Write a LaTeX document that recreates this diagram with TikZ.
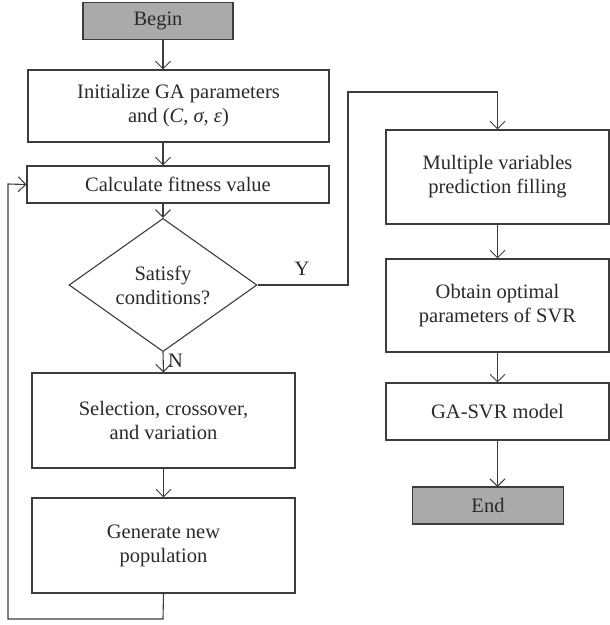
\documentclass[tikz,border=0pt]{standalone}
\usepackage{fontspec}
\setmainfont{Liberation Serif}
\usetikzlibrary{arrows.meta,shapes.geometric}
\definecolor{linec}{HTML}{3C3C3C}
\definecolor{termfill}{HTML}{A9ABAA}
\definecolor{txt}{HTML}{2A2A2A}
\begin{document}
\begin{tikzpicture}[x=1pt,y=-1pt,
  font=\fontsize{20.5}{24}\selectfont,
  every node/.style={text=txt},
  box/.style={draw=linec, line width=1.1pt, rectangle, align=center, inner sep=0pt},
  term/.style={box, fill=termfill},
  decision/.style={draw=linec, line width=1.1pt, diamond, align=center, inner sep=0pt},
  conn/.style={draw=linec, line width=1.1pt, -{Straight Barb[length=7.5pt,width=15pt,line width=1pt]}},
  plain/.style={draw=linec, line width=1.1pt}]
\useasboundingbox (0,0) rectangle (610,625);
% left column
\node[term, minimum width=150pt, minimum height=37pt] (begin) at (158,21) {Begin};
\node[box, minimum width=301pt, minimum height=72pt] (init) at (178.5,106) {Initialize GA parameters\\and (\textit{C}, \textit{σ}, \textit{ε})};
\node[box, minimum width=302pt, minimum height=37pt] (calc) at (178,184.5) {Calculate fitness value};
\node[decision, minimum width=188pt, minimum height=114pt] (dec) at (163,285) {Satisfy\\conditions?};
\node[box, minimum width=263pt, minimum height=95pt] (sel) at (163.5,420.5) {Selection, crossover,\\and variation};
\node[box, minimum width=263pt, minimum height=95pt] (gen) at (163.5,545.5) {Generate new\\population};
% right column
\node[box, minimum width=223pt, minimum height=94pt] (mult) at (497.5,177) {Multiple variables\\prediction filling};
\node[box, minimum width=223pt, minimum height=93pt] (obt) at (497.5,305.5) {Obtain optimal\\parameters of SVR};
\node[box, minimum width=223pt, minimum height=57pt] (gasvr) at (497.5,411.5) {GA-SVR model};
\node[term, minimum width=151pt, minimum height=37pt] (end) at (488,505.5) {End};
% helper coordinates
\coordinate (b1) at (163,40);
\coordinate (i1) at (163,142);
\coordinate (c1) at (163,203);
\coordinate (lb) at (163,619);
\coordinate (ll) at (8,619);
\coordinate (lt) at (8,184);
\coordinate (ya) at (348,285);
\coordinate (yb) at (348,92);
\coordinate (yc) at (497.5,92);
\coordinate (e1) at (497.5,487);
% connectors
\draw[conn] (b1) -- (b1 |- init.north);
\draw[conn] (i1) -- (i1 |- calc.north);
\draw[conn] (c1) -- (dec.north);
\draw[conn] (dec.south) -- node[right, pos=0.42, xshift=1pt] (nlab) {N} (sel.north);
\draw[conn] (sel) -- (gen);
\draw[conn] (gen.south) -- (lb) -- (ll) -- (lt) -- (calc.west);
\draw[conn] (dec.east) -- (ya) -- (yb) -- (yc) -- (mult.north);
\node (ylab) at (302,269) {Y};
\draw[conn] (mult) -- (obt);
\draw[conn] (obt) -- (gasvr);
\draw[conn] (gasvr.south) -- (e1);
\end{tikzpicture}
\end{document}
